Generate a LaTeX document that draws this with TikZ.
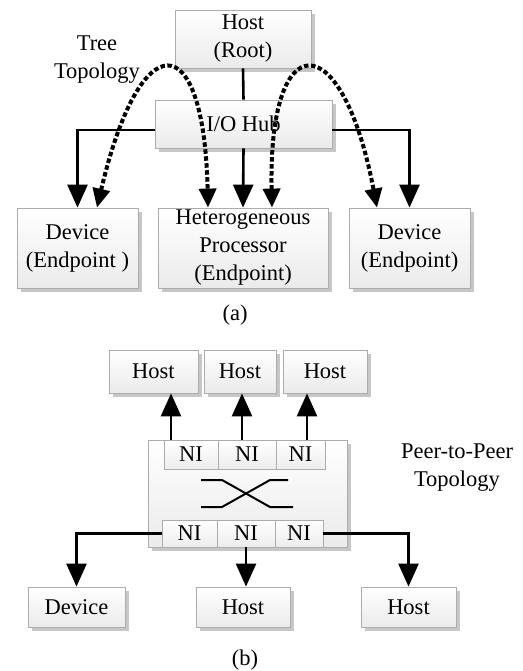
\documentclass[tikz,border=0pt]{standalone}
\usepackage{fontspec}
\setmainfont{Liberation Serif}
\usepackage{tikz}
\usetikzlibrary{arrows.meta}
\usetikzlibrary{shadows}

\begin{document}
\begin{tikzpicture}[x=1pt, y=-1pt,
	font=\fontsize{22.5}{28}\selectfont,
	box/.style={rectangle, draw=gray!65, line width=0.8pt, top color=white, bottom color=gray!16,
		drop shadow={shadow xshift=4pt, shadow yshift=-4pt, fill=black!22, opacity=1},
		align=center, inner sep=0pt},
	nibox/.style={rectangle, draw=gray!65, line width=0.8pt, top color=white, bottom color=gray!14, inner sep=0pt},
	arr/.style={line width=2.6pt, -{Triangle[width=20pt, length=23pt]}},
	dasharr/.style={line width=4pt, dash pattern=on 4.5pt off 2.5pt,
		{Triangle[width=17pt, length=19pt]}-{Triangle[width=17pt, length=19pt]}}]
	\useasboundingbox (0,0) rectangle (522,671);

	% (a) tree topology
	\node[box, minimum width=136pt, minimum height=58pt](hostRoot) at (243,39){Host\\(Root)};
	\node[box, minimum width=177pt, minimum height=48pt](ioHub) at (243.5,124){I/O Hub};
	\node[box, minimum width=121pt, minimum height=80pt](devL) at (77.5,248){Device\\(Endpoint )};
	\node[box, minimum width=170pt, minimum height=80pt](hetProc) at (243,248){Heterogeneous\\Processor\\(Endpoint)};
	\node[box, minimum width=121pt, minimum height=80pt](devR) at (409.5,248){Device\\(Endpoint)};
	\node[align=center](treeLabel) at (97,60){Tree\\Topology};
	\node(labelA) at (235,315){(a)};

	\draw[line width=2.6pt] (hostRoot.south) -- (ioHub.north);
	\draw[arr] ([yshift=-6pt]ioHub.west) -| (devL.north);
	\draw[arr] (ioHub.south) -- (hetProc.north);
	\draw[arr] ([yshift=-6pt]ioHub.east) -| (devR.north);

	\draw[dasharr] ([xshift=19.5pt]devL.north) .. controls (140,24) and (204,24) .. ([xshift=-35pt]hetProc.north);
	\draw[dasharr] ([xshift=29pt]hetProc.north) .. controls (268,24) and (342,24) .. ([xshift=-32.5pt]devR.north);

	% (b) peer-to-peer topology
	\node[box, minimum width=89pt, minimum height=43pt](hostT1) at (153.5,371.5){Host};
	\node[box, minimum width=72pt, minimum height=43pt](hostT2) at (240,371.5){Host};
	\node[box, minimum width=84pt, minimum height=43pt](hostT3) at (325,371.5){Host};

	\node[box, minimum width=199pt, minimum height=107pt](switch) at (247.5,493.5){};
	\node[nibox, minimum width=54pt, minimum height=29pt](niT1) at (191,454.5){NI};
	\node[nibox, minimum width=58pt, minimum height=29pt](niT2) at (247,454.5){NI};
	\node[nibox, minimum width=49pt, minimum height=29pt](niT3) at (300.5,454.5){NI};
	\node[nibox, minimum width=55pt, minimum height=27pt](niB1) at (189.5,533.5){NI};
	\node[nibox, minimum width=58pt, minimum height=27pt](niB2) at (246,533.5){NI};
	\node[nibox, minimum width=48pt, minimum height=27pt](niB3) at (299,533.5){NI};

	% crossbar
	\draw[line width=2pt] (201,480) -- (222,480) -- (270,507) -- (293,507);
	\draw[line width=2pt] (201,507) -- (222,507) -- (270,480) -- (288,480);

	\node[box, minimum width=97pt, minimum height=40pt](devB) at (76.5,607){Device};
	\node[box, minimum width=94pt, minimum height=40pt](hostB2) at (243,607){Host};
	\node[box, minimum width=95pt, minimum height=40pt](hostB3) at (408.5,607){Host};

	\node[align=center](p2pLabel) at (457,468){Peer-to-Peer\\Topology};
	\node(labelB) at (245,660){(b)};

	\draw[arr] ([xshift=-20pt]niT1.north) -- ([xshift=-20pt]niT1.north |- hostT1.south);
	\draw[arr] ([xshift=-5pt]niT2.north) -- ([xshift=-5pt]niT2.north |- hostT2.south);
	\draw[arr] ([xshift=6.5pt]niT3.north) -- ([xshift=6.5pt]niT3.north |- hostT3.south);

	\draw[arr] (niB1.west) -| (devB.north);
	\draw[arr] (niB2.south) -- (niB2.south |- hostB2.north);
	\draw[arr] (niB3.east) -| (hostB3.north);
\end{tikzpicture}
\end{document}
